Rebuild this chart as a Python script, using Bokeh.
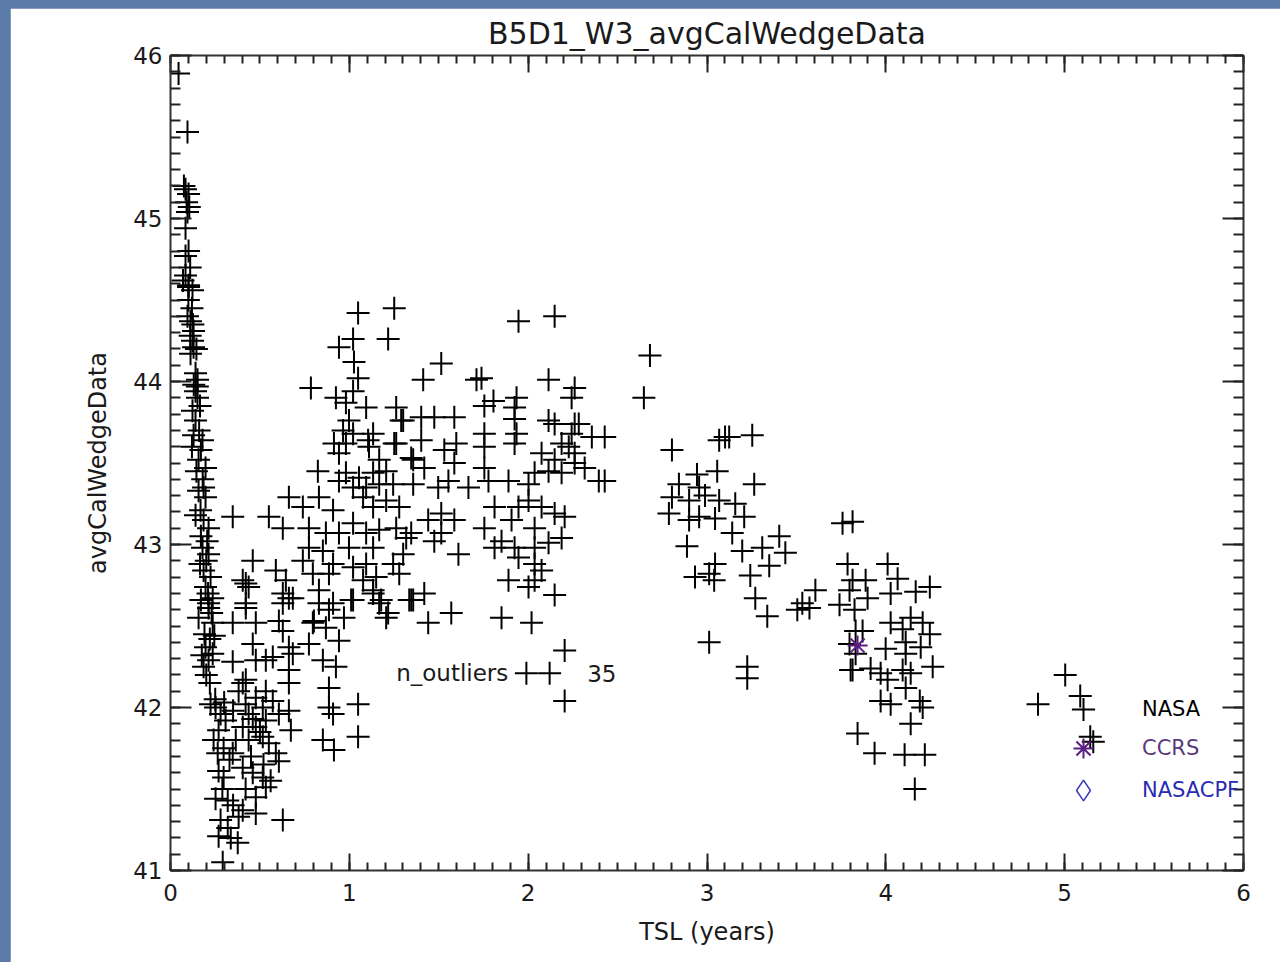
import re
from bokeh.plotting import figure
from bokeh.models import (Range1d, LinearAxis, SingleIntervalTicker,
                          Legend, LegendItem)
from bokeh.core.properties import value
from bokeh.embed import file_html
from bokeh.resources import INLINE

# ---------------- data (TSL years, avgCalWedgeData) ----------------
early_column = [
    (0.045, 45.89), (0.095, 45.53), (0.084, 45.18), (0.101, 45.15), (0.095, 45.04), (0.084, 44.94),
    (0.101, 44.80), (0.084, 44.77), (0.084, 44.65), (0.101, 44.59), (0.101, 44.58), (0.123, 44.56),
    (0.112, 44.37), (0.129, 44.31), (0.123, 44.25), (0.129, 44.21), (0.112, 44.17), (0.151, 44.01),
    (0.140, 43.94), (0.151, 43.90), (0.123, 43.82), (0.140, 43.76), (0.129, 43.67), (0.179, 43.64),
    (0.157, 43.52), (0.196, 43.47), (0.157, 43.33), (0.196, 43.29), (0.168, 43.21), (0.185, 43.15),
    (0.213, 43.10), (0.179, 42.98), (0.213, 42.94), (0.185, 42.84), (0.224, 42.80), (0.196, 42.74),
    (0.236, 42.67), (0.213, 42.64), (0.213, 42.61), (0.157, 42.55), (0.236, 42.52), (0.196, 42.37),
    (0.213, 42.29), (0.185, 42.25), (0.236, 42.33),
    (0.09, 45.10), (0.11, 44.70), (0.10, 44.50), (0.12, 44.45), (0.11, 44.28), (0.14, 44.05),
    (0.15, 43.97), (0.16, 43.70), (0.17, 43.58), (0.18, 43.40), (0.17, 43.05), (0.20, 42.90),
    (0.21, 42.70), (0.19, 42.45), (0.22, 42.42), (0.20, 42.20), (0.22, 42.15),
    (0.075, 45.20), (0.105, 45.07), (0.07, 44.62), (0.125, 44.35), (0.095, 44.40), (0.145, 44.20),
    (0.13, 43.98), (0.165, 43.85), (0.12, 43.60), (0.145, 43.45), (0.185, 43.35), (0.14, 43.18),
    (0.205, 43.02), (0.165, 42.88), (0.23, 42.58), (0.17, 42.66), (0.245, 42.44), (0.175, 42.32),
]
low_cluster = [
    (0.224, 42.02), (0.252, 42.00), (0.280, 41.96), (0.308, 41.92), (0.269, 41.86), (0.241, 41.80),
    (0.297, 41.75), (0.264, 41.72), (0.269, 41.61), (0.297, 41.57), (0.252, 41.44), (0.320, 41.43),
    (0.280, 41.31), (0.320, 41.26), (0.269, 41.21), (0.337, 41.20), (0.376, 41.17), (0.292, 41.05),
    (0.381, 42.10), (0.421, 42.17), (0.477, 42.06), (0.533, 42.10), (0.516, 42.00), (0.572, 42.04),
    (0.437, 41.96), (0.404, 41.88), (0.477, 41.88), (0.533, 41.92), (0.606, 41.96), (0.662, 41.98),
    (0.365, 41.80), (0.437, 41.80), (0.516, 41.82), (0.589, 41.72), (0.606, 41.67), (0.348, 41.72),
    (0.404, 41.63), (0.460, 41.60), (0.516, 41.57), (0.533, 41.51), (0.477, 41.45), (0.404, 41.37),
    (0.381, 41.33), (0.477, 41.35), (0.628, 41.31), (0.673, 41.86), (0.348, 42.28), (0.477, 42.29),
    (0.533, 42.29), (0.572, 42.31), (0.404, 42.15),
    (0.25, 42.05), (0.30, 42.03), (0.35, 41.98), (0.42, 42.02), (0.46, 41.93), (0.50, 41.85),
    (0.55, 41.78), (0.33, 41.68), (0.45, 41.70), (0.52, 41.65), (0.56, 41.55), (0.42, 41.50),
    (0.29, 41.50), (0.35, 41.40),
]
mid_low = [
    (0.421, 42.61), (0.348, 42.52), (0.477, 42.52), (0.460, 42.39), (0.628, 42.64), (0.662, 42.67),
    (0.606, 42.53), (0.628, 42.47), (0.662, 42.37), (0.662, 42.23), (0.662, 42.15), (0.684, 42.33),
    (0.796, 42.52), (0.830, 42.64), (0.886, 42.60), (0.869, 42.49), (0.942, 42.41), (0.774, 42.39),
    (0.852, 42.29), (0.925, 42.25), (0.886, 42.12), (0.886, 42.00), (0.909, 41.96), (1.049, 42.02),
    (0.852, 41.80), (0.914, 41.74), (1.049, 41.82), (0.421, 42.76), (1.021, 42.66), (1.133, 42.72),
    (1.206, 42.55), (1.357, 42.66),
]
first_hump = [
    (1.049, 44.42), (1.251, 44.45), (1.021, 44.26), (1.217, 44.26), (0.942, 44.21), (1.026, 44.12),
    (1.049, 44.02), (0.785, 43.96), (0.925, 43.90), (1.021, 43.94), (0.981, 43.87), (1.094, 43.84),
    (1.262, 43.84), (0.998, 43.76), (1.301, 43.76), (0.965, 43.70), (1.021, 43.68), (1.133, 43.68),
    (0.981, 43.62), (1.110, 43.60), (1.262, 43.62), (0.942, 43.56), (1.167, 43.52), (1.357, 43.52),
    (0.824, 43.45), (0.981, 43.44), (1.054, 43.41), (1.133, 43.44), (1.206, 43.45), (0.942, 43.39),
    (1.021, 43.35), (1.094, 43.35), (1.167, 43.37), (1.245, 43.37), (1.357, 43.37), (1.077, 43.29),
    (1.133, 43.23), (1.206, 43.27), (1.279, 43.23), (0.662, 43.29), (0.740, 43.23), (0.830, 43.29),
    (0.909, 43.21), (0.348, 43.17), (0.550, 43.17), (0.628, 43.10), (0.774, 43.10), (0.869, 43.07),
    (0.942, 43.07), (1.021, 43.13), (1.094, 43.07), (1.167, 43.09), (1.262, 43.10), (1.318, 43.04),
    (0.774, 42.98), (0.852, 42.96), (0.998, 42.98), (1.133, 42.98), (1.301, 42.94), (0.460, 42.90),
    (0.740, 42.90), (0.909, 42.88), (1.021, 42.86), (1.094, 42.88), (1.245, 42.88), (0.404, 42.78),
    (0.589, 42.84), (0.645, 42.78), (0.796, 42.82), (0.886, 42.82), (1.077, 42.78), (1.150, 42.80),
    (1.279, 42.82), (0.437, 42.74), (0.628, 42.70), (0.830, 42.72), (1.133, 42.70), (1.335, 42.66),
    (0.421, 42.64), (0.684, 42.67), (0.909, 42.64), (1.167, 42.64),
]
second_hump = [
    (1.946, 44.37), (2.148, 44.40), (1.514, 44.11), (1.413, 44.01), (1.711, 44.01), (1.739, 44.02),
    (2.114, 44.01), (2.260, 43.96), (2.243, 43.90), (1.755, 43.85), (1.806, 43.88), (1.935, 43.90),
    (1.924, 43.84), (1.290, 43.76), (1.402, 43.78), (1.475, 43.78), (1.587, 43.78), (1.924, 43.77),
    (2.114, 43.76), (2.148, 43.74), (2.283, 43.74), (2.243, 43.68), (2.356, 43.66), (1.755, 43.68),
    (1.935, 43.68), (1.402, 43.64), (1.531, 43.58), (1.598, 43.62), (1.755, 43.60), (1.924, 43.62),
    (2.187, 43.62), (1.251, 43.62), (1.105, 43.64), (0.914, 43.62), (2.075, 43.56), (2.148, 43.52),
    (2.260, 43.56), (2.316, 43.47), (2.395, 43.39), (1.755, 43.47), (1.778, 43.39), (1.890, 43.39),
    (2.036, 43.44), (2.114, 43.45), (2.187, 43.44), (1.587, 43.50), (1.419, 43.47), (1.346, 43.53),
    (1.554, 43.39), (1.666, 43.35), (1.497, 43.35), (2.002, 43.37), (2.002, 43.27), (1.946, 43.23),
    (1.812, 43.23), (2.148, 43.19), (2.075, 43.23), (1.907, 43.15), (2.036, 43.10), (1.755, 43.10),
    (1.851, 43.02), (1.812, 42.98), (1.924, 42.98), (2.036, 42.98), (2.187, 43.04), (2.114, 43.01),
    (1.946, 42.92), (2.036, 42.88), (2.075, 42.84), (2.036, 42.78), (1.890, 42.78), (2.002, 42.74),
    (2.148, 42.69), (1.851, 42.55), (2.019, 42.52), (1.570, 42.58), (1.441, 42.52), (1.610, 42.94),
    (1.514, 43.07), (1.475, 43.02), (1.514, 43.19), (1.587, 43.15), (1.441, 43.15), (1.346, 43.07),
    (1.419, 42.70), (1.346, 42.66), (1.217, 42.58), (1.178, 42.66), (0.802, 42.53), (0.970, 42.55),
    (1.010, 42.66), (1.99, 42.21), (2.12, 42.21),
]
third_group = [
    (2.681, 44.16), (2.647, 43.90), (2.260, 43.74), (2.227, 43.60), (2.428, 43.66), (2.260, 43.50),
    (2.428, 43.39), (2.204, 43.17), (2.804, 43.58), (3.068, 43.64), (3.101, 43.66), (3.124, 43.66),
    (3.253, 43.67), (3.057, 43.45), (2.944, 43.43), (2.843, 43.37), (2.956, 43.35), (2.804, 43.29),
    (2.900, 43.27), (2.989, 43.30), (3.068, 43.27), (3.158, 43.25), (3.264, 43.37), (2.787, 43.19),
    (2.900, 43.15), (2.956, 43.17), (3.045, 43.16), (3.208, 43.17), (2.888, 42.99), (3.141, 43.07),
    (3.197, 42.96), (3.309, 42.98), (3.404, 43.05), (3.438, 42.95), (3.348, 42.87), (3.045, 42.88),
    (3.012, 42.82), (2.933, 42.80), (3.040, 42.78), (3.242, 42.81), (3.270, 42.67), (3.337, 42.56),
    (3.012, 42.40), (3.225, 42.25), (3.225, 42.18), (3.533, 42.64), (3.606, 42.72), (3.573, 42.61),
    (3.505, 42.60), (3.758, 43.13), (3.814, 43.14), (3.786, 42.88), (3.814, 42.78), (3.741, 42.63),
    (3.797, 42.72), (3.831, 42.47), (3.797, 42.39), (3.814, 42.23), (2.204, 42.35), (2.204, 42.04),
]
late_group = [
    (4.010, 42.88), (3.887, 42.78), (4.066, 42.79), (3.898, 42.67), (4.027, 42.70), (4.167, 42.71),
    (4.246, 42.74), (3.825, 42.60), (4.027, 42.52), (4.139, 42.55), (4.206, 42.52), (3.870, 42.47),
    (4.094, 42.48), (4.246, 42.45), (4.111, 42.40), (3.999, 42.36), (4.195, 42.37), (3.831, 42.33),
    (4.111, 42.33), (3.803, 42.23), (3.915, 42.24), (3.971, 42.21), (4.010, 42.17), (4.094, 42.23),
    (4.139, 42.21), (4.262, 42.25), (4.111, 42.12), (3.971, 42.04), (4.027, 42.02), (4.190, 42.04),
    (4.206, 42.00), (4.139, 41.90), (3.842, 41.84), (3.937, 41.72), (4.105, 41.71), (4.218, 41.71),
    (4.162, 41.50), (5.003, 42.20), (4.851, 42.02), (5.087, 42.07), (5.143, 41.82), (5.160, 41.79),
]
ccrs_x = [3.842]
ccrs_y = [42.38]
nasacpf_x = [float("nan")]   # no NASACPF points in this chart; legend entry only
nasacpf_y = [float("nan")]

x_range_limits = (0, 6)
y_range_limits = (41, 46)
title_text = "B5D1_W3_avgCalWedgeData"
x_label = "TSL (years)"
y_label = "avgCalWedgeData"
outlier_label = "n_outliers"
n_outliers = 35
legend_labels = ["NASA", "CCRS", "NASACPF"]

groups = [early_column, low_cluster, mid_low, first_hump, second_hump, third_group, late_group]
nasa_x = [pt[0] for g in groups for pt in g]
nasa_y = [pt[1] for g in groups for pt in g]

FONT = "DejaVu Sans"
INK = "#1a1a1a"

p = figure(width=1270, height=954,
           x_range=Range1d(*x_range_limits), y_range=Range1d(*y_range_limits),
           output_backend="svg", toolbar_location=None,
           min_border_left=160, min_border_right=37, min_border_top=47, min_border_bottom=92,
           background_fill_color="white", border_fill_color="white")
p.margin = (8, 0, 0, 10)
p.outline_line_color = None
p.xgrid.visible = False
p.ygrid.visible = False

p.title.text = title_text
p.title.align = "center"
p.title.text_font = FONT
p.title.text_font_size = "30px"
p.title.text_font_style = "normal"
p.title.text_color = INK
p.title.standoff = 10


def style_axis(ax, major_in, minor_in, labels=True):
    ax.ticker = SingleIntervalTicker(interval=1, num_minor_ticks=10)
    ax.major_tick_in = major_in
    ax.major_tick_out = 0
    ax.minor_tick_in = minor_in
    ax.minor_tick_out = 0
    ax.axis_line_width = 2
    ax.axis_line_color = "#333333"
    ax.major_tick_line_width = 2
    ax.major_tick_line_color = "#222222"
    ax.minor_tick_line_width = 2
    ax.minor_tick_line_color = "#222222"
    if labels:
        ax.major_label_text_font = FONT
        ax.major_label_text_font_size = "23px"
        ax.major_label_text_color = INK
        ax.axis_label_text_font = FONT
        ax.axis_label_text_font_size = "24px"
        ax.axis_label_text_font_style = "normal"
        ax.axis_label_text_color = INK
    else:
        ax.major_label_text_font_size = "1px"
        ax.major_label_text_alpha = 0
        ax.major_label_standoff = 0


xa = p.xaxis[0]
style_axis(xa, 17, 8)
xa.axis_label = x_label
xa.major_label_standoff = 13
xa.axis_label_standoff = 14

ya = p.yaxis[0]
style_axis(ya, 21, 10)
ya.axis_label = y_label
ya.major_label_standoff = 8
ya.axis_label_standoff = 18

top = LinearAxis()
style_axis(top, 17, 8, labels=False)
p.add_layout(top, "above")
right = LinearAxis()
style_axis(right, 21, 10, labels=False)
p.add_layout(right, "right")

# data
r_nasa = p.scatter(nasa_x, nasa_y, marker="cross", size=23, line_color="black", line_width=2)
r_ccrs = p.scatter(ccrs_x, ccrs_y, marker="asterisk", size=20, line_color="#5a1e82", line_width=2)
r_cpf = p.scatter(x=nasacpf_x, y=nasacpf_y, marker="diamond", size=21, line_color="#3a3ab8",
                  fill_color=None, line_width=1.5)

# annotation texts
p.text(x=[1.262], y=[42.21], text=[outlier_label], text_font=value(FONT),
       text_font_size=value("23px"), text_baseline="middle", text_color=INK)
p.text(x=[2.33], y=[42.21], text=[str(n_outliers)], text_font=value(FONT),
       text_font_size=value("23px"), text_baseline="middle", text_color=INK)

# legends (one per item so each label keeps its own colour)
legend_specs = [
    (legend_labels[0], r_nasa, "black", 58, (884, 132), 30),
    (legend_labels[1], r_ccrs, "#5a3a7e", 50, (888, 97), 34),
    (legend_labels[2], r_cpf, "#2a2ab4", 52, (887, 54), 33),
]
for label, rend, col, box, loc, standoff in legend_specs:
    lg = Legend(items=[LegendItem(label=label, renderers=[rend])], location=loc,
                glyph_width=box, glyph_height=box, label_height=box, label_standoff=standoff,
                padding=0, margin=0, spacing=0, border_line_color=None,
                background_fill_alpha=0, label_text_font=FONT, label_text_font_size="21px",
                label_text_color=col)
    p.add_layout(lg, "center")

html = file_html(p, INLINE)
style = "<style>html,body{margin:0 !important;padding:0;background:#5b7ba8 !important;}</style>"
html = html.replace("</head>", style + "</head>", 1)
open("out.html", "w").write(html)
